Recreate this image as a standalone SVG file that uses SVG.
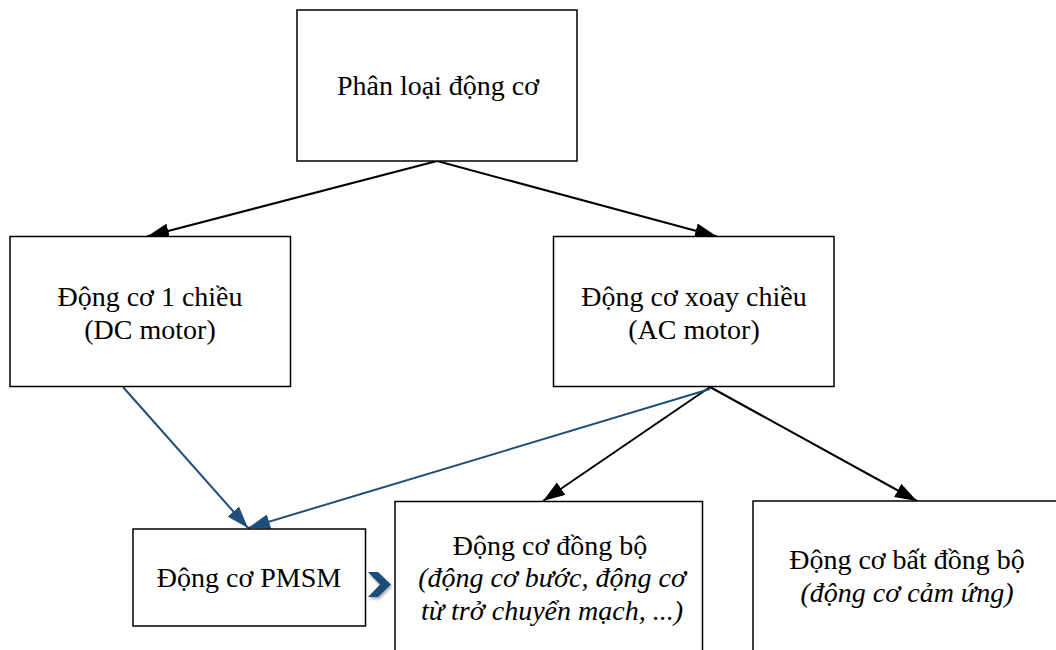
<svg xmlns="http://www.w3.org/2000/svg" width="1056" height="650" viewBox="0 0 1056 650">
  <style>
    .box { fill: #ffffff; stroke: #000000; stroke-width: 1.5; }
    .edge { fill: none; stroke: #000000; stroke-width: 2; }
    .edge-blue { fill: none; stroke: #1f4e79; stroke-width: 2; }
  </style>
  <defs>
    <marker id="arrow-black" viewBox="0 0 22 15" refX="22" refY="7.5" markerWidth="22" markerHeight="15" markerUnits="userSpaceOnUse" orient="auto">
      <path d="M0,0 L22,7.5 L0,15 Z" fill="#000000"/>
    </marker>
    <marker id="arrow-blue" viewBox="0 0 22 15" refX="22" refY="7.5" markerWidth="22" markerHeight="15" markerUnits="userSpaceOnUse" orient="auto">
      <path d="M0,0 L22,7.5 L0,15 Z" fill="#1f4e79"/>
    </marker>
    <filter id="soft-shadow" x="-50%" y="-50%" width="200%" height="200%">
      <feGaussianBlur in="SourceAlpha" stdDeviation="1.5"/>
      <feOffset dx="1" dy="2" result="b"/>
      <feComponentTransfer><feFuncA type="linear" slope="0.35"/></feComponentTransfer>
      <feMerge><feMergeNode/><feMergeNode in="SourceGraphic"/></feMerge>
    </filter>
  </defs>

  <rect width="1056" height="650" fill="#ffffff"/>

  <!-- connectors -->
  <g id="connectors">
    <line class="edge" x1="437" y1="161" x2="147" y2="236.5" marker-end="url(#arrow-black)"/>
    <line class="edge" x1="437" y1="161" x2="717" y2="236.5" marker-end="url(#arrow-black)"/>
    <line class="edge" x1="710" y1="387" x2="543" y2="501" marker-end="url(#arrow-black)"/>
    <line class="edge" x1="710" y1="387" x2="917" y2="501" marker-end="url(#arrow-black)"/>
    <line class="edge-blue" x1="123" y1="387" x2="248" y2="528" marker-end="url(#arrow-blue)"/>
    <line class="edge-blue" x1="710" y1="389" x2="248" y2="528" marker-end="url(#arrow-blue)"/>
    <!-- chevron between PMSM and synchronous motor -->
    <path d="M368,572 L378,572 L391,584.5 L378,597 L368,597 L380,584.5 Z" fill="#1f4e79" filter="url(#soft-shadow)"/>
  </g>

  <g font-family="Liberation Serif, Times New Roman, serif" font-size="28" fill="#000000" text-anchor="middle">
    <g id="node-root">
      <rect class="box" x="297" y="10" width="280" height="151"/>
      <text x="438" y="95">Phân loại động cơ</text>
    </g>

    <g id="node-dc">
      <rect class="box" x="10" y="236.5" width="280.5" height="150"/>
      <text x="150" y="306">Động cơ 1 chiều</text>
      <text x="150" y="339">(DC motor)</text>
    </g>

    <g id="node-ac">
      <rect class="box" x="553.5" y="236.5" width="280.5" height="150"/>
      <text x="694" y="306">Động cơ xoay chiều</text>
      <text x="694" y="339">(AC motor)</text>
    </g>

    <g id="node-pmsm">
      <rect class="box" x="133" y="529" width="232.5" height="97"/>
      <text x="249" y="587">Động cơ PMSM</text>
    </g>

    <g id="node-sync">
      <rect class="box" x="395" y="501.5" width="307.5" height="160"/>
      <text x="550" y="555">Động cơ đồng bộ</text>
      <text x="552" y="587" font-style="italic">(động cơ bước, động cơ</text>
      <text x="552" y="620" font-style="italic">từ trở chuyển mạch, ...)</text>
    </g>

    <g id="node-async">
      <rect class="box" x="753" y="501" width="320" height="160"/>
      <text x="907" y="569">Động cơ bất đồng bộ</text>
      <text x="907" y="602" font-style="italic">(động cơ cảm ứng)</text>
    </g>
  </g>
</svg>
